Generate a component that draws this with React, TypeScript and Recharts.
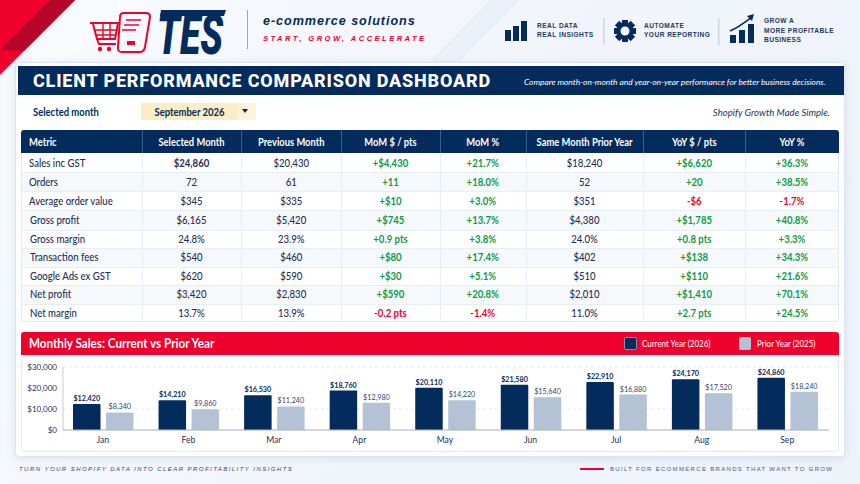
import React from "react";
import { BarChart, Bar, XAxis, YAxis, CartesianGrid, LabelList } from "recharts";

const NAVY = "#032b5c";
const INK = "#1f2f57";
const RED = "#ee022d";
const GREEN = "#0f9a4a";
const SOFT = "#b4c2d6";
const FONT = "Lato, sans-serif";

const columns = ["Metric", "Selected Month", "Previous Month", "MoM $ / pts", "MoM %", "Same Month Prior Year", "YoY $ / pts", "YoY %"];
const metrics = ["Sales inc GST", "Orders", "Average order value", "Gross profit", "Gross margin", "Transaction fees", "Google Ads ex GST", "Net profit", "Net margin"];
const selectedMonth = ["$24,860", "72", "$345", "$6,165", "24.8%", "$540", "$620", "$3,420", "13.7%"];
const previousMonth = ["$20,430", "61", "$335", "$5,420", "23.9%", "$460", "$590", "$2,830", "13.9%"];
const momDelta = ["+$4,430", "+11", "+$10", "+$745", "+0.9 pts", "+$80", "+$30", "+$590", "-0.2 pts"];
const momPct = ["+21.7%", "+18.0%", "+3.0%", "+13.7%", "+3.8%", "+17.4%", "+5.1%", "+20.8%", "-1.4%"];
const priorYear = ["$18,240", "52", "$351", "$4,380", "24.0%", "$402", "$510", "$2,010", "11.0%"];
const yoyDelta = ["+$6,620", "+20", "-$6", "+$1,785", "+0.8 pts", "+$138", "+$110", "+$1,410", "+2.7 pts"];
const yoyPct = ["+36.3%", "+38.5%", "-1.7%", "+40.8%", "+3.3%", "+34.3%", "+21.6%", "+70.1%", "+24.5%"];

const months = ["Jan", "Feb", "Mar", "Apr", "May", "Jun", "Jul", "Aug", "Sep"];
const currentSales = [12420, 14210, 16530, 18760, 20110, 21580, 22910, 24170, 24860];
const priorSales = [8340, 9860, 11240, 12980, 14220, 15640, 16880, 17520, 18240];
const yTicks = [0, 10000, 20000, 30000];

const colEdges = [21, 141.5, 240.5, 341, 440, 525.5, 642.5, 745, 839];
const rowEdges = [153, 172, 191, 210, 229.5, 247.5, 266.5, 284.5, 303.5, 322];

const chartData = months.map((month, i) => ({ month, current: currentSales[i], prior: priorSales[i] }));
const money = (v: number) => `$${v.toLocaleString("en-US")}`;

function Txt({ x, y, w, align = "left", sx = 1, style, children }: any) {
  // y is the vertical centre of the line, sx narrows the glyphs a bit
  return (
    <div
      style={{
        position: "absolute",
        left: x,
        top: y - 10,
        width: w,
        height: 20,
        lineHeight: "20px",
        textAlign: align,
        whiteSpace: "nowrap",
        fontFamily: FONT,
        color: INK,
        transform: sx === 1 ? undefined : `scaleX(${sx})`,
        transformOrigin: align,
        ...style,
      }}
    >
      {children}
    </div>
  );
}

function Box({ x, y, w, h, style }: any) {
  return <div style={{ position: "absolute", left: x, top: y, width: w, height: h, boxSizing: "border-box", ...style }} />;
}

function HeaderArt() {
  return (
    <svg width={860} height={76} style={{ position: "absolute", left: 0, top: 0 }}>
      <polygon points="0,0 75,0 0,75" fill={RED} />
      <polygon points="50,0 75,0 24,51 0,50" fill="#b5062a" />
      <polygon points="90,0 150,0 60,62 28,62" fill="#ffffff" opacity={0.35} />
      <polygon points="490,0 520,0 460,62 430,62" fill="#e6edf6" opacity={0.6} />

      {/* cart */}
      <g stroke={RED} strokeWidth={2} fill="none">
        <path d="M90 23 H118 L115 39 H97 L93 24" />
        <path d="M94 30 H117 M96 35 H116 M103 23 V39 M110 23 V39" strokeWidth={1.4} />
        <path d="M97 39 L99 44 H116" />
        <path d="M124 13 H146 Q150 13 150 17 L145 47 Q144 52 140 52 H122 Q117 52 118 47 L120 17 Q120 13 124 13 Z" fill="#f5f8fc" />
      </g>
      <circle cx={100} cy={49} r={2.2} fill={RED} />
      <circle cx={109} cy={49} r={2.2} fill={RED} />
      <path d="M126 20 H141 M124 25 H139 M122 30 H136" stroke={RED} strokeWidth={1.6} />
      <rect x={127} y={41} width={8} height={4} fill={RED} />

      <text x={157} y={54} fontFamily="Roboto" fontWeight={900} fontStyle="italic" fontSize={56} fill={NAVY} textLength={66} lengthAdjust="spacingAndGlyphs">
        TES
      </text>
      <polygon points="161,10 226,10 224,16 160,16" fill={NAVY} />
      <rect x={247} y={10} width={1} height={39} fill="#9aa6b5" />

      {/* bars icon */}
      <g fill={NAVY}>
        <rect x={505} y={30} width={6} height={11} />
        <rect x={513} y={26} width={6} height={15} />
        <rect x={521} y={21} width={6} height={20} />
      </g>
      <rect x={603} y={18} width={1.5} height={27} fill="#cdd6e2" />

      {/* gear */}
      <g fill={NAVY}>
        {[0, 45, 90, 135, 180, 225, 270, 315].map((a) => (
          <rect key={a} x={622} y={20} width={6} height={22} transform={`rotate(${a} 625 31)`} />
        ))}
      </g>
      <circle cx={625} cy={31} r={6.5} fill="none" stroke={NAVY} strokeWidth={4} />
      <circle cx={625} cy={31} r={4.5} fill="#f4f7fc" />
      <rect x={718} y={18} width={1.5} height={27} fill="#cdd6e2" />

      {/* growth icon */}
      <g fill={NAVY}>
        <rect x={730} y={35} width={6} height={8} />
        <rect x={739} y={30} width={6} height={13} />
        <rect x={748} y={24} width={6} height={19} />
      </g>
      <path d="M730 31 C739 27 745 22 752 17" stroke={NAVY} strokeWidth={1.6} fill="none" />
      <polygon points="754,14 747,16 752,21" fill={NAVY} />
    </svg>
  );
}

function Table() {
  const body = [metrics, selectedMonth, previousMonth, momDelta, momPct, priorYear, yoyDelta, yoyPct];
  return (
    <>
      <Box x={21} y={130} w={818} h={23} style={{ background: NAVY, borderRadius: "3px 3px 0 0" }} />
      <Box x={21} y={153} w={818} h={169} style={{ background: "#fff", border: "1px solid #e1e9f3", borderTop: "none", borderRadius: "0 0 3px 3px" }} />
      {metrics.map((_, r) =>
        r % 2 === 1 ? (
          <Box key={r} x={22} y={rowEdges[r]} w={816} h={rowEdges[r + 1] - rowEdges[r]} style={{ background: "#f6f9fc" }} />
        ) : null
      )}
      {rowEdges.slice(1, -1).map((y) => (
        <Box key={y} x={22} y={y} w={816} h={1} style={{ background: "#e8eef6" }} />
      ))}
      {colEdges.slice(1, -1).map((x) => (
        <React.Fragment key={x}>
          <Box x={x} y={130} w={1} h={23} style={{ background: "#3c5d88" }} />
          <Box x={x} y={153} w={1} h={169} style={{ background: "#e8eef6" }} />
        </React.Fragment>
      ))}
      {columns.map((c, i) => (
        <Txt
          key={c}
          x={i === 0 ? 29 : colEdges[i]}
          y={141.5}
          w={i === 0 ? 100 : colEdges[i + 1] - colEdges[i]}
          align={i === 0 ? "left" : "center"}
          sx={0.885}
          style={{ color: "#fff", fontSize: 10.6, fontWeight: 700 }}
        >
          {c}
        </Txt>
      ))}
      {body.map((col, c) =>
        col.map((v, r) => {
          const signed = c === 3 || c === 4 || c === 6 || c === 7;
          const color = signed ? (v.startsWith("-") ? RED : GREEN) : INK;
          const weight = signed ? 700 : c === 1 && r === 0 ? 700 : 500;
          return (
            <Txt
              key={`${c}-${r}`}
              x={c === 0 ? (r > 2 ? 30 : 29) : colEdges[c]}
              y={(rowEdges[r] + rowEdges[r + 1]) / 2}
              w={c === 0 ? 110 : colEdges[c + 1] - colEdges[c]}
              align={c === 0 ? "left" : "center"}
              sx={0.87}
              style={{ color, fontSize: 11, fontWeight: c === 0 ? 500 : weight }}
            >
              {v}
            </Txt>
          );
        })
      )}
    </>
  );
}

function SalesChart() {
  return (
    <div style={{ position: "absolute", left: 21, top: 356 }}>
      <BarChart width={818} height={96} data={chartData} barSize={27.5} barGap={5.5} margin={{ top: 11, right: 10, bottom: 0, left: 0 }}>
        <CartesianGrid vertical={false} stroke="#e6ebf2" strokeDasharray="3 3" />
        <XAxis
          dataKey="month"
          height={22}
          padding={{ left: -3, right: -1 }}
          tickLine={false}
          axisLine={{ stroke: "#a9b4c4", strokeWidth: 1 }}
          tick={{ fontSize: 8.6, fill: INK, fontFamily: FONT }}
          tickMargin={1}
        />
        <YAxis
          width={42}
          domain={[0, 30000]}
          ticks={yTicks}
          tickFormatter={money}
          tickLine={false}
          tickSize={0}
          tickMargin={6}
          axisLine={{ stroke: "#c3ccd9", strokeWidth: 1 }}
          tick={{ fontSize: 8, fill: INK, fontFamily: FONT }}
        />
        <Bar dataKey="current" fill={NAVY} radius={[1, 1, 0, 0]} isAnimationActive={false}>
          <LabelList dataKey="current" position="top" offset={3} formatter={money} style={{ fontSize: 7.2, fontWeight: 700, fill: NAVY, fontFamily: FONT }} />
        </Bar>
        <Bar dataKey="prior" fill={SOFT} radius={[1, 1, 0, 0]} isAnimationActive={false}>
          <LabelList dataKey="prior" position="top" offset={3} formatter={money} style={{ fontSize: 7.2, fontWeight: 400, fill: "#33466d", fontFamily: FONT }} />
        </Bar>
      </BarChart>
    </div>
  );
}

export default function App() {
  return (
    <div style={{ position: "absolute", left: 0, top: 0, width: 860, height: 484, overflow: "hidden", background: "linear-gradient(120deg,#f7fafd 0%,#f1f5fb 60%,#eef3fa 100%)" }}>
      <HeaderArt />
      <Txt x={263} y={21} style={{ fontSize: 12.6, fontWeight: 700, fontStyle: "italic", color: NAVY, fontFamily: "'Liberation Sans'", letterSpacing: 0.95 }}>
        e-commerce solutions
      </Txt>
      <Txt x={263} y={39} style={{ fontSize: 7.6, fontWeight: 700, fontStyle: "italic", color: RED, fontFamily: "'Liberation Sans'", letterSpacing: 2.44 }}>
        START, GROW, ACCELERATE
      </Txt>
      {[
        [537, 26, "REAL DATA"],
        [537, 35, "REAL INSIGHTS"],
        [644, 26, "AUTOMATE"],
        [644, 35, "YOUR REPORTING"],
        [764, 21, "GROW A"],
        [764, 31, "MORE PROFITABLE"],
        [764, 40, "BUSINESS"],
      ].map(([x, y, t]) => (
        <Txt key={String(t)} x={x} y={y} style={{ fontSize: 6.6, fontWeight: 700, color: "#24395f", fontFamily: "'Liberation Sans'", letterSpacing: 0.45 }}>
          {t}
        </Txt>
      ))}

      <Box x={15} y={62} w={830} h={395} style={{ background: "#fff", border: "1px solid #dbe4f0", borderRadius: 4, boxShadow: "0 2px 10px rgba(90,120,170,0.16)" }} />
      <Box x={18} y={66} w={826} h={29} style={{ background: NAVY }} />
      <Txt x={33} y={81} style={{ fontSize: 18, fontWeight: 800, color: "#fff", fontFamily: "Roboto", letterSpacing: 0.82 }}>
        CLIENT PERFORMANCE COMPARISON DASHBOARD
      </Txt>
      <Txt x={524} y={81.5} style={{ fontSize: 8.4, fontStyle: "italic", color: "#fff" }}>
        Compare month-on-month and year-on-year performance for better business decisions.
      </Txt>

      <Txt x={33} y={111.5} sx={0.9} style={{ fontSize: 10.5, fontWeight: 700, color: NAVY }}>
        Selected month
      </Txt>
      <Box x={141} y={103} w={97} h={17} style={{ background: "#fcedc6" }} />
      <Box x={238} y={103} w={18} h={17} style={{ background: "#fdf3d8" }} />
      <Txt x={141} y={111.5} w={97} align="center" sx={0.9} style={{ fontSize: 10.5, fontWeight: 700, color: NAVY }}>
        September 2026
      </Txt>
      <svg width={8} height={5} style={{ position: "absolute", left: 241, top: 109 }}>
        <polygon points="1,0 7,0 4,4" fill={NAVY} />
      </svg>
      <Txt x={630} y={111.5} w={200} align="right" sx={0.92} style={{ fontSize: 10.4, fontStyle: "italic", color: INK }}>
        Shopify Growth Made Simple.
      </Txt>

      <Table />

      <Box x={21} y={332} w={818} h={120} style={{ background: "#fff", border: "1px solid #dfe7f2", borderRadius: 4 }} />
      <Box x={21} y={332} w={818} h={23} style={{ background: RED, borderRadius: "3px 3px 0 0" }} />
      <Txt x={29} y={343.5} sx={0.94} style={{ fontSize: 12.4, fontWeight: 700, color: "#fff" }}>
        Monthly Sales: Current vs Prior Year
      </Txt>
      <Box x={624} y={337} w={13} h={13} style={{ background: NAVY, border: "1px solid #7d8fb0", borderRadius: 2 }} />
      <Txt x={642} y={343.5} sx={0.885} style={{ fontSize: 9, fontWeight: 500, color: "#ffe9ec" }}>
        Current Year (2026)
      </Txt>
      <Box x={739} y={337} w={12} h={13} style={{ background: SOFT, borderRadius: 2 }} />
      <Txt x={757} y={343.5} sx={0.885} style={{ fontSize: 9, fontWeight: 500, color: "#ffe9ec" }}>
        Prior Year (2025)
      </Txt>

      <SalesChart />

      <Txt x={19} y={469} style={{ fontSize: 6, fontWeight: 500, fontStyle: "italic", color: "#33466d", fontFamily: "'Liberation Sans'", letterSpacing: 1.45 }}>
        TURN YOUR SHOPIFY DATA INTO CLEAR PROFITABILITY INSIGHTS
      </Txt>
      <Box x={580} y={468} w={24} h={2} style={{ background: RED }} />
      <Txt x={610} y={469} style={{ fontSize: 6, fontWeight: 500, color: "#4a5a7c", fontFamily: "'Liberation Sans'", letterSpacing: 1.32 }}>
        BUILT FOR ECOMMERCE BRANDS THAT WANT TO GROW
      </Txt>
    </div>
  );
}
